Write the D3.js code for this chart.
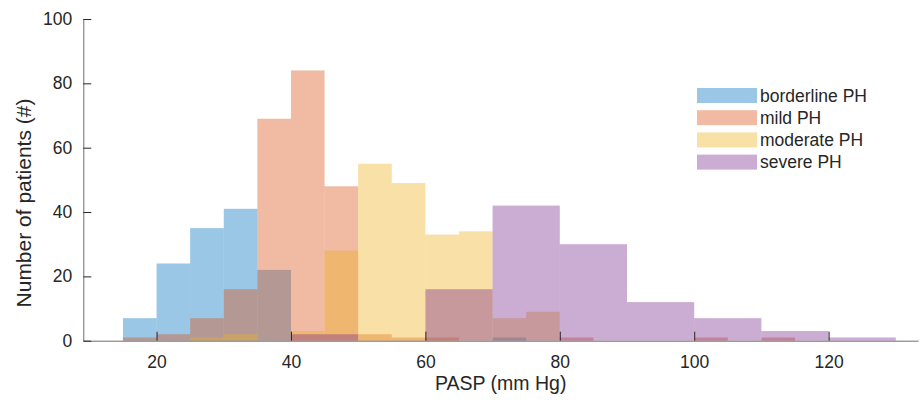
<!DOCTYPE html>
<html>
<head>
<meta charset="utf-8">
<script src="https://cdn.jsdelivr.net/npm/d3@7/dist/d3.min.js"></script>
<style>
  html, body { margin: 0; padding: 0; background: #fff; }
  svg { display: block; font-family: "Liberation Sans", Arial, sans-serif; }
</style>
</head>
<body>
<svg id="chart" width="923" height="405"></svg>
<script>
// ---- data ----
const seriesNames = ["borderline PH", "mild PH", "moderate PH", "severe PH"];
const seriesColors = ["#0072BD", "#D95319", "#EDB120", "#7E2F8E"];

// bin edges start / width, counts per bin
const borderlineStart = 15, borderlineWidth = 5;
const borderlineCounts = [7, 24, 35, 41, 22, 0, 0, 0, 0, 0, 0, 1];

const mildStart = 15, mildWidth = 5;
const mildCounts = [1, 2, 7, 16, 69, 84, 48, 2, 1, 1, 0, 0, 0, 1, 0, 0, 0, 1, 0, 1];

const moderateStart = 15, moderateWidth = 5;
const moderateCounts = [0, 0, 1, 2, 0, 3, 28, 55, 49, 33, 34, 7, 9];

const severeStart = 40, severeWidth = 10;
const severeCounts = [2, 0, 16, 42, 30, 12, 7, 3, 1];

const xTicks = [20, 40, 60, 80, 100, 120];
const yTicks = [0, 20, 40, 60, 80, 100];

const xLabel = "PASP (mm Hg)";
const yLabel = "Number of patients (#)";

// ---- build bins ----
function toBins(start, width, counts) {
  return counts.map((c, i) => ({ x0: start + i * width, x1: start + (i + 1) * width, n: c }));
}
const allSeries = [
  toBins(borderlineStart, borderlineWidth, borderlineCounts),
  toBins(mildStart, mildWidth, mildCounts),
  toBins(moderateStart, moderateWidth, moderateCounts),
  toBins(severeStart, severeWidth, severeCounts)
];

// ---- layout ----
const svg = d3.select("#chart");
const x = d3.scaleLinear().domain([9.1, 133.3]).range([83.3, 918]);
const y = d3.scaleLinear().domain([0, 100]).range([340.7, 19]);

const FACE_ALPHA = 0.4;

// bars
allSeries.forEach((bins, si) => {
  svg.append("g")
    .selectAll("rect")
    .data(bins.filter(b => b.n > 0))
    .join("rect")
    .attr("x", d => x(d.x0))
    .attr("width", d => x(d.x1) - x(d.x0))
    .attr("y", d => y(d.n))
    .attr("height", d => y(0) - y(d.n))
    .attr("fill", seriesColors[si])
    .attr("fill-opacity", FACE_ALPHA);
});

// axes
const axisColor = "#262626";
const xAxis = d3.axisBottom(x).tickValues(xTicks).tickSizeInner(-9).tickSizeOuter(0).tickPadding(15);
const gx = svg.append("g").attr("transform", `translate(0,${y(0)})`).call(xAxis);
gx.select(".domain").attr("stroke", "#6e6e6e");
gx.selectAll(".tick line").attr("stroke", axisColor);
gx.selectAll(".tick text").attr("font-size", 17.5).attr("fill", "#262626")
  .attr("font-family", "'Liberation Sans', Arial, sans-serif");

const yAxis = d3.axisLeft(y).tickValues(yTicks).tickSizeInner(-8).tickSizeOuter(0).tickPadding(11);
const gy = svg.append("g").attr("transform", `translate(${x(9.1)},0)`).call(yAxis);
gy.select(".domain").attr("stroke", "#6e6e6e");
gy.selectAll(".tick line").attr("stroke", axisColor);
gy.selectAll(".tick text").attr("font-size", 17.5).attr("fill", "#262626")
  .attr("font-family", "'Liberation Sans', Arial, sans-serif");

// axis titles
svg.append("text")
  .attr("x", (x.range()[0] + x.range()[1]) / 2)
  .attr("y", 390)
  .attr("text-anchor", "middle")
  .attr("font-size", 19.5)
  .attr("fill", "#262626")
  .text(xLabel);

svg.append("text")
  .attr("transform", `translate(30.5,203) rotate(-90)`)
  .attr("text-anchor", "middle")
  .attr("font-size", 21)
  .attr("fill", "#262626")
  .text(yLabel);

// legend
const legend = svg.append("g").attr("transform", "translate(697,88)");
seriesNames.forEach((name, i) => {
  const row = legend.append("g").attr("transform", `translate(0,${i * 22.2})`);
  row.append("rect")
    .attr("x", 0).attr("y", 0)
    .attr("width", 60).attr("height", 15)
    .attr("fill", seriesColors[i])
    .attr("fill-opacity", FACE_ALPHA);
  row.append("text")
    .attr("x", 63).attr("y", 7.5)
    .attr("dy", "0.36em")
    .attr("font-size", 17.5)
    .attr("fill", "#262626")
    .text(name);
});
</script>
</body>
</html>
